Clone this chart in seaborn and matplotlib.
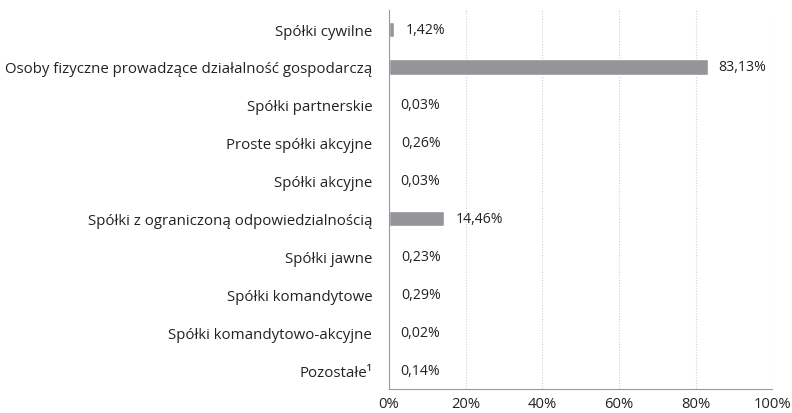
import matplotlib
matplotlib.use("Agg")
import matplotlib.pyplot as plt
import seaborn as sns
import pandas as pd

categories = [
    "Spółki cywilne",
    "Osoby fizyczne prowadzące działalność gospodarczą",
    "Spółki partnerskie",
    "Proste spółki akcyjne",
    "Spółki akcyjne",
    "Spółki z ograniczoną odpowiedzialnością",
    "Spółki jawne",
    "Spółki komandytowe",
    "Spółki komandytowo-akcyjne",
    "Pozostałe¹",
]
shares = [1.42, 83.13, 0.03, 0.26, 0.03, 14.46, 0.23, 0.29, 0.02, 0.14]
x_ticks = [0, 20, 40, 60, 80, 100]

df = pd.DataFrame({"category": categories, "share": shares})

sns.set_style("white")
plt.rcParams["font.family"] = ["Open Sans", "DejaVu Sans"]

fig = plt.figure(figsize=(7.92, 4.14), dpi=100)
ax = fig.add_axes([0.491, 0.058, 0.484, 0.915])

sns.barplot(data=df, y="category", x="share", color="#939598",
            width=0.4, ax=ax, saturation=1)

for i, v in enumerate(shares):
    ax.annotate(f"{v:.2f}%".replace(".", ","), xy=(v, i), xytext=(8, 0),
                textcoords="offset points", va="center", ha="left",
                fontsize=10.2, color="#222222")

ax.set_xlim(0, 100)
ax.set_ylim(len(categories) - 0.5, -0.5)
ax.set_xticks(x_ticks)
ax.set_xticklabels([f"{t}%" for t in x_ticks], fontsize=10.6, color="#222222")
ax.tick_params(axis="y", labelsize=10.8, labelcolor="#222222", length=0, pad=12)
ax.tick_params(axis="x", length=0, pad=5)
ax.set_xlabel("")
ax.set_ylabel("")

ax.xaxis.grid(True, linestyle=(0, (1, 1.5)), color="#cfcfcf", linewidth=0.8)
ax.set_axisbelow(True)
for s in ["top", "right"]:
    ax.spines[s].set_visible(False)
for s in ["left", "bottom"]:
    ax.spines[s].set_color("#999999")
    ax.spines[s].set_linewidth(0.8)

fig.savefig("out.png", dpi=100)
